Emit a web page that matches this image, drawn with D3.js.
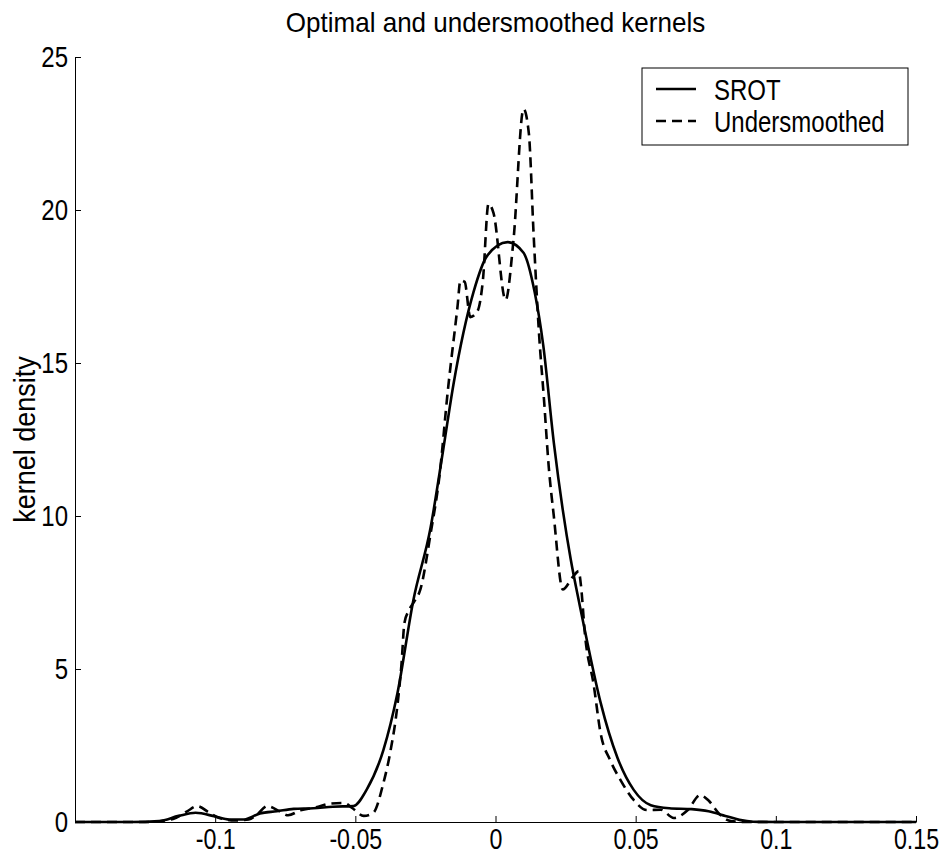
<!DOCTYPE html>
<html>
<head>
<meta charset="utf-8">
<script src="https://cdn.jsdelivr.net/npm/d3@7"></script>
<style>
  body { margin: 0; background: #fff; }
  svg text { font-family: "Liberation Sans", Arial, sans-serif; fill: #000; }
</style>
</head>
<body>
<svg id="chart" width="945" height="856"></svg>
<script>
// values
const srotX = [-0.15, -0.13, -0.12, -0.113, -0.107, -0.1, -0.095, -0.09, -0.084, -0.078, -0.072, -0.065, -0.058, -0.0507,
  -0.046, -0.04, -0.035, -0.0293, -0.0232, -0.0186, -0.015, -0.0079, -0.003, 0.0043, 0.01, 0.014, 0.017, 0.0208, 0.024,
  0.0268, 0.03, 0.0328, 0.0375, 0.0435, 0.0493, 0.0554, 0.062, 0.07, 0.076, 0.082, 0.087, 0.092, 0.1, 0.15];
const srotY = [0, 0, 0.03, 0.2, 0.3, 0.18, 0.08, 0.08, 0.28, 0.35, 0.43, 0.45, 0.5, 0.52,
  1.05, 2.35, 4.2, 7.25, 9.6, 12.2, 14.3, 17.3, 18.5, 18.95, 18.6, 17.3, 15.6, 12.4, 10.2,
  8.6, 7.1, 5.85, 3.9, 2.1, 1.05, 0.55, 0.45, 0.42, 0.35, 0.2, 0.07, 0.01, 0, 0];

const underX = [-0.15, -0.125, -0.115, -0.11, -0.1064, -0.102, -0.099, -0.093, -0.088, -0.085, -0.0814, -0.077, -0.074,
  -0.0696, -0.064, -0.059, -0.054, -0.051, -0.047, -0.0436, -0.04, -0.0375, -0.035, -0.0335, -0.0325, -0.031, -0.029,
  -0.0268, -0.0232, -0.02, -0.017, -0.0136, -0.0125, -0.011, -0.009, -0.0064, -0.0045, -0.0025, -0.0007, 0.0036, 0.0064,
  0.010, 0.0119, 0.0136, 0.0155, 0.0173, 0.019, 0.0208, 0.024, 0.0275, 0.0297, 0.0304, 0.032, 0.035, 0.0375, 0.041,
  0.0446, 0.0493, 0.054, 0.059, 0.0636, 0.0686, 0.073, 0.076, 0.08, 0.084, 0.09, 0.15];
const underY = [0, 0, 0.1, 0.35, 0.52, 0.3, 0.15, 0.05, 0.08, 0.25, 0.52, 0.35, 0.22,
  0.38, 0.48, 0.6, 0.62, 0.45, 0.2, 0.3, 1.27, 2.3, 3.8, 5.2, 6.5, 6.9, 7.2,
  7.6, 9.4, 11.3, 14.1, 16.8, 17.7, 17.65, 16.5, 16.7, 17.7, 20.2, 19.9, 17.06, 19.0,
  23.3, 22.5, 19.2, 16.0, 13.8, 11.6, 10.0, 7.6, 8.0, 8.2, 7.8, 6.05, 4.5, 2.9, 2.0,
  1.37, 0.72, 0.39, 0.4, 0.13, 0.39, 0.88, 0.7, 0.25, 0.03, 0, 0];

const xTicks = [-0.1, -0.05, 0, 0.05, 0.1, 0.15];
const xTickLabels = ['-0.1', '-0.05', '0', '0.05', '0.1', '0.15'];
const yTicks = [0, 5, 10, 15, 20, 25];
const seriesNames = ['SROT', 'Undersmoothed'];

const margin = { top: 57, right: 29, bottom: 34, left: 75 };
const width = 945, height = 856;
// the original font is a narrow sans; squeeze Liberation Sans to match
const narrow = 0.8;

const svg = d3.select('#chart');

const x = d3.scaleLinear().domain([-0.15, 0.15]).range([margin.left, width - margin.right]);
const y = d3.scaleLinear().domain([0, 25]).range([height - margin.bottom, margin.top]);

// axes, MATLAB style: ticks inside, no box
const xAxis = d3.axisBottom(x)
  .tickValues(xTicks)
  .tickFormat((d, i) => xTickLabels[i])
  .tickSizeInner(-6).tickSizeOuter(0);
const yAxis = d3.axisLeft(y)
  .tickValues(yTicks)
  .tickFormat(d => String(d))
  .tickSizeInner(-6).tickSizeOuter(0);

const gx = svg.append('g')
  .attr('transform', `translate(0,${y(0)})`)
  .call(xAxis);
const gy = svg.append('g')
  .attr('transform', `translate(${x(-0.15)},0)`)
  .call(yAxis);

[gx, gy].forEach(g => {
  g.select('.domain').attr('stroke', '#000').attr('stroke-width', 1);
  g.selectAll('.tick line').attr('stroke', '#000').attr('stroke-width', 1);
  g.selectAll('.tick text').style('font-size', '30px').attr('fill', '#000');
});
gx.selectAll('.tick text')
  .style('font-size', '29px')
  .attr('y', 0).attr('dy', '0.71em')
  .attr('transform', `translate(0,6) scale(${narrow},1)`);
gy.selectAll('.tick text')
  .attr('x', 0)
  .attr('transform', `translate(-7,0) scale(${narrow},1)`);

// curves
const srot = srotX.map((v, i) => [v, srotY[i]]);
const under = underX.map((v, i) => [v, underY[i]]);

const line = d3.line()
  .x(d => x(d[0]))
  .y(d => y(d[1]))
  .curve(d3.curveMonotoneX);

svg.append('path')
  .datum(under)
  .attr('d', line)
  .attr('fill', 'none')
  .attr('stroke', '#000')
  .attr('stroke-width', 2.6)
  .attr('stroke-dasharray', '10,6');

svg.append('path')
  .datum(srot)
  .attr('d', line)
  .attr('fill', 'none')
  .attr('stroke', '#000')
  .attr('stroke-width', 2.6);

// title and y label
svg.append('text')
  .attr('transform', `translate(${(x.range()[0] + x.range()[1]) / 2},32) scale(0.93,1)`)
  .attr('text-anchor', 'middle')
  .style('font-size', '28px')
  .text('Optimal and undersmoothed kernels');

svg.append('text')
  .attr('transform', `translate(35,${(y(0) + y(25)) / 2}) rotate(-90) scale(0.9,1)`)
  .attr('text-anchor', 'middle')
  .style('font-size', '30px')
  .text('kernel density');

// legend
const legend = svg.append('g').attr('transform', 'translate(642,68)');
legend.append('rect')
  .attr('width', 266).attr('height', 77)
  .attr('fill', '#fff').attr('stroke', '#000').attr('stroke-width', 1);

seriesNames.forEach((name, i) => {
  const cy = 21 + i * 32;
  legend.append('line')
    .attr('x1', 14).attr('x2', 54)
    .attr('y1', cy).attr('y2', cy)
    .attr('stroke', '#000').attr('stroke-width', 2.6)
    .attr('stroke-dasharray', i === 1 ? '10,6' : null);
  legend.append('text')
    .attr('transform', `translate(72,${cy}) scale(${narrow},1)`)
    .attr('dy', '0.36em')
    .style('font-size', '30px')
    .text(name);
});
</script>
</body>
</html>
